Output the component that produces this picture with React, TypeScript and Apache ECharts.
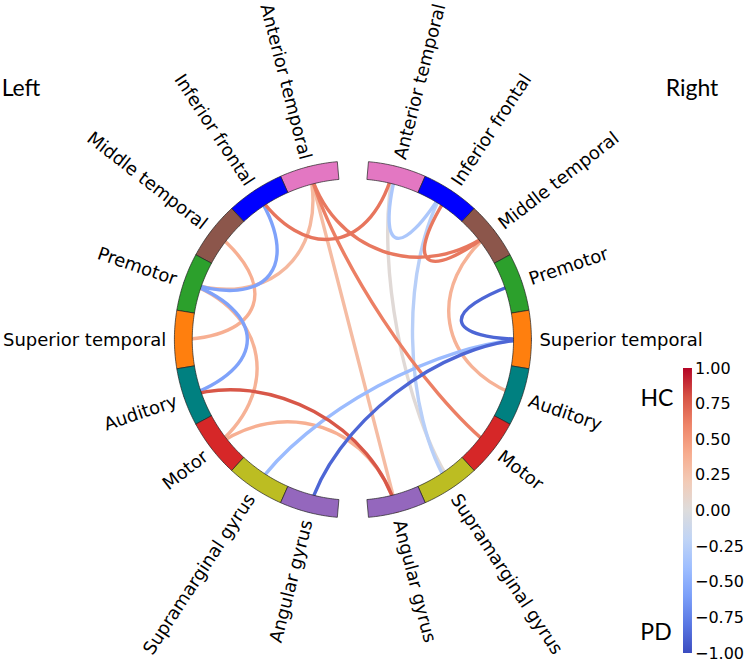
import React, { useEffect, useRef } from "react";
import * as echarts from "echarts";

// ---- data ----
const regionNames = [
  "Anterior temporal",
  "Inferior frontal",
  "Middle temporal",
  "Premotor",
  "Superior temporal",
  "Auditory",
  "Motor",
  "Supramarginal gyrus",
  "Angular gyrus",
];
const regionColors = [
  "#e377c2",
  "#0000ff",
  "#8c564b",
  "#2ca02c",
  "#ff7f0e",
  "#008080",
  "#d62728",
  "#bcbd22",
  "#9467bd",
];
const hemisphereTitles = ["Left", "Right"];
const groupLabels = ["HC", "PD"];

const conSource = [
  "L Anterior temporal",
  "L Anterior temporal",
  "L Anterior temporal",
  "L Anterior temporal",
  "L Inferior frontal",
  "L Inferior frontal",
  "L Middle temporal",
  "L Premotor",
  "L Premotor",
  "L Auditory",
  "L Motor",
  "L Supramarginal gyrus",
  "L Angular gyrus",
  "R Anterior temporal",
  "R Anterior temporal",
  "R Inferior frontal",
  "R Inferior frontal",
  "R Middle temporal",
  "R Premotor",
];
const conTarget = [
  "L Premotor",
  "R Angular gyrus",
  "R Middle temporal",
  "R Motor",
  "R Anterior temporal",
  "L Premotor",
  "L Superior temporal",
  "L Motor",
  "L Auditory",
  "R Angular gyrus",
  "R Angular gyrus",
  "R Superior temporal",
  "R Superior temporal",
  "R Inferior frontal",
  "R Supramarginal gyrus",
  "R Supramarginal gyrus",
  "R Middle temporal",
  "R Auditory",
  "R Superior temporal",
];
const conValue = [
  0.32, 0.3, 0.65, 0.62, 0.66, -0.58, 0.38, 0.36, -0.58, 0.78, 0.38, -0.42,
  -0.88, -0.32, 0.03, -0.25, 0.65, 0.36, -0.88,
];
// small angular offsets (degrees) of each line's ends within its node
const conStartShift = [0, 0, 0, 0, 0, 0, 0, 0, 0, 0, 0, 0, 0, 0, -1, -2, 0, 0, 0];
const conEndShift = [0, 0, 0, 0, -1, 0, 0, 0, 0, 0, 0, 0, 0, -2, -1, 0, 0, 0, 0];

const colorbarStops = [
  "#3b4cc0", "#5977e3", "#7b9ff9", "#9ebeff", "#c0d4f5", "#dddcdc",
  "#f2cbb7", "#f7ac8e", "#ee8468", "#d65244", "#b40426",
];
const colorMin = -1;
const colorMax = 1;
const colorTickStep = 0.25;

// ---- helpers ----
const GROUP_SEP = 10;
const NODE_SPAN = (360 - 2 * GROUP_SEP) / (regionNames.length * 2);

function nodeAngle(key: string): number {
  const side = key[0];
  const idx = regionNames.indexOf(key.slice(2));
  const a = GROUP_SEP / 2 + NODE_SPAN * (idx + 0.5);
  return side === "R" ? a : 360 - a;
}

function hexToRgb(h: string) {
  return [
    parseInt(h.slice(1, 3), 16),
    parseInt(h.slice(3, 5), 16),
    parseInt(h.slice(5, 7), 16),
  ];
}

function coolwarm(v: number): string {
  let t = (v - colorMin) / (colorMax - colorMin);
  t = Math.max(0, Math.min(1, t));
  const n = colorbarStops.length - 1;
  const f = t * n;
  const i = Math.min(n - 1, Math.floor(f));
  const u = f - i;
  const a = hexToRgb(colorbarStops[i]);
  const b = hexToRgb(colorbarStops[i + 1]);
  const c = a.map((x, k) => Math.round(x + (b[k] - x) * u));
  return `rgb(${c[0]},${c[1]},${c[2]})`;
}

const nodeKeys: string[] = [];
["L", "R"].forEach((s) => regionNames.forEach((n) => nodeKeys.push(s + " " + n)));

const drawOrder = conValue
  .map((v, i) => i)
  .sort((a, b) => Math.abs(conValue[a]) - Math.abs(conValue[b]));

export default function App() {
  const ref = useRef<HTMLDivElement>(null);
  useEffect(() => {
    if (!ref.current) return;
    const chart = echarts.init(ref.current, null, { renderer: "svg" });

    const titleStyle = { fontSize: 23, fontFamily: "Lato", fill: "#000", align: "center", verticalAlign: "middle" };

    const option: any = {
      animation: false,
      backgroundColor: "#ffffff",
      polar: { center: [352.9, 339.5], radius: 178.5 },
      angleAxis: {
        type: "value",
        min: 0,
        max: 360,
        startAngle: 90,
        clockwise: true,
        show: false,
      },
      radiusAxis: { type: "value", min: 0, max: 10, show: false },
      grid: { left: 683, top: 368, width: 15.5, height: 285 },
      xAxis: { type: "value", min: 0, max: 1, show: false },
      yAxis: {
        type: "value",
        min: colorMin,
        max: colorMax,
        interval: colorTickStep,
        position: "right",
        axisLine: { show: false },
        axisTick: { show: false },
        splitLine: { show: false },
        axisLabel: {
          margin: 3,
          fontSize: 16,
          fontFamily: "DejaVu Sans",
          color: "#000",
          formatter: (v: number) =>
            (v < -1e-9 ? "\u2212" : "") + Math.abs(v).toFixed(2),
        },
      },
      series: [
        {
          type: "custom",
          coordinateSystem: "polar",
          z: 1,
          data: drawOrder.map((i) => [i, 0]),
          renderItem: (params: any, api: any) => {
            const i = api.value(0);
            const a0 = nodeAngle(conSource[i]) + conStartShift[i];
            const a1 = nodeAngle(conTarget[i]) + conEndShift[i];
            const p0 = api.coord([10, a0]);
            const p1 = api.coord([5, a0]);
            const p2 = api.coord([5, a1]);
            const p3 = api.coord([10, a1]);
            return {
              type: "bezierCurve",
              shape: {
                x1: p0[0], y1: p0[1],
                cpx1: p1[0], cpy1: p1[1],
                cpx2: p2[0], cpy2: p2[1],
                x2: p3[0], y2: p3[1],
              },
              style: { stroke: coolwarm(conValue[i]), lineWidth: 3.4, fill: "none" },
            };
          },
        },
        {
          type: "custom",
          coordinateSystem: "polar",
          z: 5,
          data: nodeKeys.map((k, i) => [i, 0]),
          renderItem: (params: any, api: any) => {
            const key = nodeKeys[api.value(0)];
            const idx = regionNames.indexOf(key.slice(2));
            const c = nodeAngle(key);
            const a0 = c - NODE_SPAN / 2;
            const a1 = c + NODE_SPAN / 2;
            const pts: number[][] = [];
            const N = 24;
            for (let k = 0; k <= N; k++) pts.push(api.coord([10, a0 + ((a1 - a0) * k) / N]));
            for (let k = N; k >= 0; k--) pts.push(api.coord([9, a0 + ((a1 - a0) * k) / N]));
            const lp = api.coord([10.45, c]);
            const right = key[0] === "R";
            const signed = right ? c : c - 360;
            const phi = 90 - signed;
            const rot = ((right ? phi : phi - 180) * Math.PI) / 180;
            return {
              type: "group",
              children: [
                {
                  type: "polygon",
                  shape: { points: pts },
                  style: { fill: regionColors[idx], stroke: "#222", lineWidth: 0.7 },
                },
                {
                  type: "text",
                  x: lp[0],
                  y: lp[1],
                  rotation: rot,
                  style: {
                    text: regionNames[idx],
                    fill: "#000",
                    fontSize: 18,
                    fontFamily: "DejaVu Sans",
                    align: right ? "left" : "right",
                    verticalAlign: "middle",
                  },
                },
              ],
            };
          },
        },
        {
          type: "custom",
          coordinateSystem: "cartesian2d",
          data: [[0, colorMin]],
          renderItem: (params: any, api: any) => {
            const lo = api.coord([0, colorMin]);
            const hi = api.coord([1, colorMax]);
            return {
              type: "rect",
              shape: { x: lo[0], y: hi[1], width: hi[0] - lo[0], height: lo[1] - hi[1] },
              style: {
                fill: new echarts.graphic.LinearGradient(
                  0, 1, 0, 0,
                  colorbarStops.map((col, k) => ({ offset: k / (colorbarStops.length - 1), color: col }))
                ),
              },
            };
          },
        },
      ],
      graphic: [
        { type: "text", x: 21, y: 87, style: { ...titleStyle, text: hemisphereTitles[0] } },
        { type: "text", x: 692, y: 87, style: { ...titleStyle, text: hemisphereTitles[1] } },
        { type: "text", x: 657, y: 397, style: { ...titleStyle, text: groupLabels[0] } },
        { type: "text", x: 656, y: 631, style: { ...titleStyle, text: groupLabels[1] } },
      ],
    };
    chart.setOption(option);
    return () => chart.dispose();
  }, []);
  return (
    <div
      ref={ref}
      style={{ position: "absolute", left: 0, top: 0, width: 747, height: 661, background: "#fff" }}
    />
  );
}
